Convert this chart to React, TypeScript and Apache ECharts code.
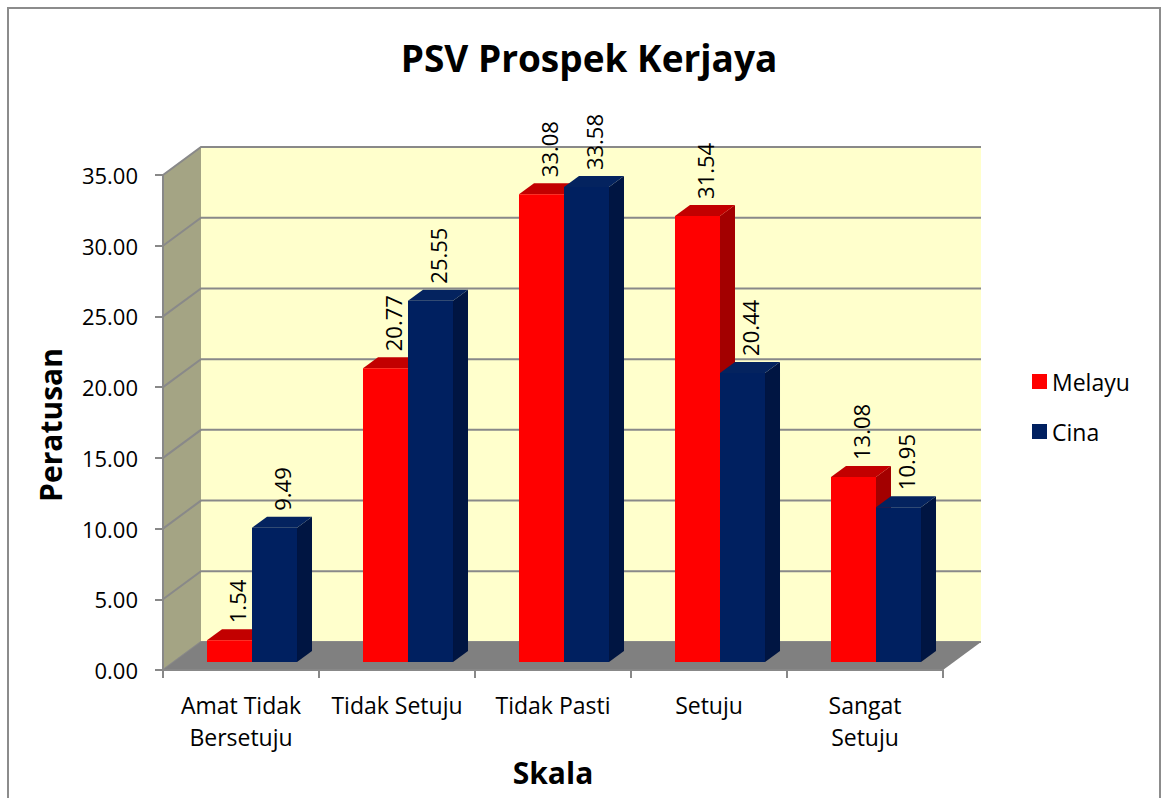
import React, { useEffect, useRef } from "react";
import * as echarts from "echarts";

const categories = ["Amat Tidak\nBersetuju", "Tidak Setuju", "Tidak Pasti", "Setuju", "Sangat\nSetuju"];
const seriesNames = ["Melayu", "Cina"];
const melayuValues = [1.54, 20.77, 33.08, 31.54, 13.08];
const cinaValues = [9.49, 25.55, 33.58, 20.44, 10.95];
const yTicks = [0, 5, 10, 15, 20, 25, 30, 35];
const titleText = "PSV Prospek Kerjaya";
const yTitle = "Peratusan";
const xTitle = "Skala";

const FONT = '"Open Sans", "Noto Sans", sans-serif';
const WALL_DX = 38;
const WALL_DY = 28;
const FRONT_DX = 11;
const FRONT_DY = 8;
const BAR_DX = 15;
const BAR_DY = 11;
const BAR_FRAC = 0.2885;
const GRID_COLOR = "#898989";

const palette = [
  { front: "#FF0000", top: "#C20000", side: "#A30000" },
  { front: "#002060", top: "#04235F", side: "#001542" },
];

function makeBarSeries(idx: number, values: number[]) {
  const col = palette[idx];
  return {
    type: "custom",
    name: seriesNames[idx],
    itemStyle: { color: col.front },
    clip: false,
    z: 3,
    data: values.map((v, i) => [i, v]),
    renderItem: (params: any, api: any) => {
      const i = api.value(0);
      const v = api.value(1);
      const c = api.coord([i, v]);
      const b = api.coord([i, 0]);
      const band = api.size([1, 0])[0];
      const bw = band * BAR_FRAC;
      const x0 = c[0] + FRONT_DX - (idx === 0 ? bw : 0);
      const yt = c[1] - FRONT_DY;
      const yb = b[1] - FRONT_DY;
      const x1 = x0 + bw;
      return {
        type: "group",
        children: [
          {
            type: "polygon",
            shape: { points: [[x1, yt], [x1 + BAR_DX, yt - BAR_DY], [x1 + BAR_DX, yb - BAR_DY], [x1, yb]] },
            style: { fill: col.side },
          },
          {
            type: "polygon",
            shape: { points: [[x0, yt], [x1, yt], [x1 + BAR_DX, yt - BAR_DY], [x0 + BAR_DX, yt - BAR_DY]] },
            style: { fill: col.top },
          },
          {
            type: "rect",
            shape: { x: x0, y: yt, width: bw, height: yb - yt },
            style: { fill: col.front },
          },
          {
            type: "text",
            x: x0 + bw / 2 + BAR_DX / 2,
            y: yt - BAR_DY - 6,
            rotation: Math.PI / 2,
            style: {
              text: v.toFixed(2),
              fill: "#000",
              font: `22px ${FONT}`,
              align: "left",
              verticalAlign: "middle",
              textAlign: "left",
              textVerticalAlign: "middle",
            },
          },
        ],
      };
    },
  };
}

const wallsSeries = {
  type: "custom",
  clip: false,
  z: 1,
  silent: true,
  data: [[0, 0]],
  renderItem: (params: any, api: any) => {
    const cs = params.coordSys;
    const xl = cs.x;
    const xr = cs.x + cs.width;
    const y0 = api.coord([0, yTicks[0]])[1];
    const yTop = api.coord([0, yTicks[yTicks.length - 1]])[1];
    const children: any[] = [];
    children.push({
      type: "polygon",
      shape: { points: [[xl, yTop], [xl + WALL_DX, yTop - WALL_DY], [xl + WALL_DX, y0 - WALL_DY], [xl, y0]] },
      style: { fill: "#A4A484" },
    });
    children.push({
      type: "rect",
      shape: { x: xl + WALL_DX, y: yTop - WALL_DY, width: cs.width, height: y0 - yTop },
      style: { fill: "#FFFFCC" },
    });
    yTicks.forEach((t) => {
      const y = api.coord([0, t])[1];
      children.push({
        type: "polyline",
        shape: { points: [[xl, y], [xl + WALL_DX, y - WALL_DY], [xr + WALL_DX, y - WALL_DY]] },
        style: { stroke: GRID_COLOR, lineWidth: 2, fill: "none" },
      });
    });
    children.push({
      type: "polygon",
      shape: { points: [[xl, y0], [xr, y0], [xr + WALL_DX, y0 - WALL_DY], [xl + WALL_DX, y0 - WALL_DY]] },
      style: { fill: "#808080" },
    });
    return { type: "group", children };
  },
};

export default function App() {
  const ref = useRef<HTMLDivElement>(null);
  useEffect(() => {
    if (!ref.current) return;
    const chart = echarts.init(ref.current, undefined, { renderer: "svg" });
    const axisLineStyle = { color: "#888888", width: 2 };
    chart.setOption({
      animation: false,
      backgroundColor: "#FFFFFF",
      grid: { left: 163, top: 175, width: 780, height: 495, containLabel: false },
      legend: {
        data: seriesNames,
        orient: "vertical",
        left: 1032,
        top: 370,
        padding: 0,
        itemWidth: 15,
        itemHeight: 15,
        itemGap: 27,
        icon: "rect",
        textStyle: { fontFamily: FONT, fontSize: 23, color: "#000" },
      },
      xAxis: {
        type: "category",
        data: categories,
        z: 10,
        axisLine: { show: true, lineStyle: axisLineStyle },
        axisTick: { show: true, length: 8, interval: 0, lineStyle: axisLineStyle },
        axisLabel: { interval: 0, margin: 19, fontFamily: FONT, fontSize: 23, lineHeight: 32, color: "#000" },
        splitLine: { show: false },
      },
      yAxis: {
        type: "value",
        min: 0,
        max: 35,
        interval: 5,
        z: 10,
        axisLine: { show: true, lineStyle: axisLineStyle },
        axisTick: { show: true, length: 8, lineStyle: axisLineStyle },
        axisLabel: {
          margin: 25,
          fontFamily: FONT,
          fontSize: 22,
          color: "#000",
          formatter: (v: number) => v.toFixed(2),
        },
        splitLine: { show: false },
      },
      graphic: [
        {
          type: "rect",
          shape: { x: 8, y: 8, width: 1152, height: 820 },
          style: { fill: "none", stroke: "#8C8C8C", lineWidth: 2 },
          silent: true,
        },
        {
          type: "text",
          x: 589,
          y: 57,
          style: {
            text: titleText,
            font: `bold 37px ${FONT}`,
            fill: "#000",
            align: "center",
            verticalAlign: "middle",
            textAlign: "center",
            textVerticalAlign: "middle",
          },
        },
        {
          type: "text",
          x: 50,
          y: 425,
          rotation: Math.PI / 2,
          style: {
            text: yTitle,
            font: `bold 30px ${FONT}`,
            fill: "#000",
            align: "center",
            verticalAlign: "middle",
            textAlign: "center",
            textVerticalAlign: "middle",
          },
        },
        {
          type: "text",
          x: 553,
          y: 772,
          style: {
            text: xTitle,
            font: `bold 30px ${FONT}`,
            fill: "#000",
            align: "center",
            verticalAlign: "middle",
            textAlign: "center",
            textVerticalAlign: "middle",
          },
        },
      ],
      series: [wallsSeries, makeBarSeries(0, melayuValues), makeBarSeries(1, cinaValues)],
    });
    return () => chart.dispose();
  }, []);
  return (
    <div
      ref={ref}
      style={{ position: "absolute", left: 0, top: 0, width: 1163, height: 798, background: "#fff" }}
    />
  );
}
